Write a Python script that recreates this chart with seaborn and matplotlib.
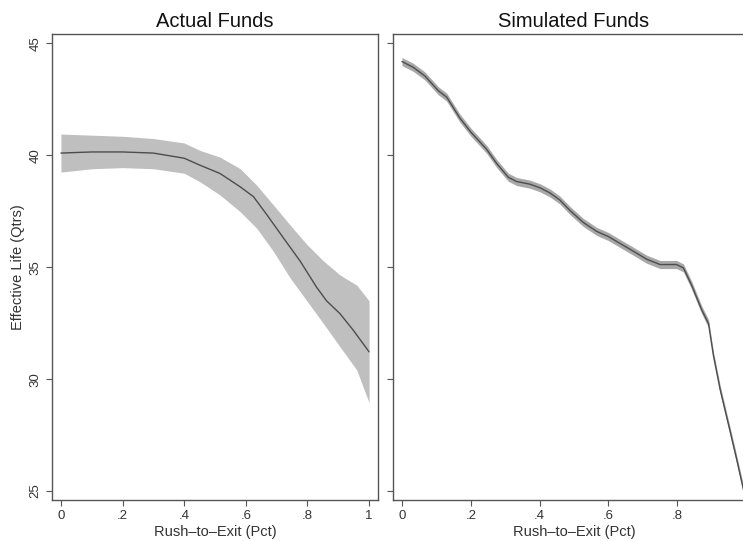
import matplotlib
matplotlib.use("Agg")
import matplotlib.pyplot as plt
import seaborn as sns
import pandas as pd

sns.set_theme(style="white")
plt.rcParams['font.family'] = ['Liberation Sans', 'DejaVu Sans']

# Actual funds: fitted line
act_x = [0.0, 0.1, 0.2, 0.3, 0.4, 0.451, 0.516, 0.581, 0.625, 0.668, 0.722, 0.776,
         0.83, 0.862, 0.906, 0.949, 1.0]
act_mid = [40.1, 40.15, 40.15, 40.1, 39.87, 39.56, 39.19, 38.6, 38.15, 37.35, 36.31, 35.28,
           34.1, 33.5, 32.92, 32.18, 31.22]
# Actual funds: confidence band
band_x = [0.0, 0.1, 0.2, 0.3, 0.4, 0.451, 0.516, 0.581, 0.635, 0.689, 0.743, 0.798,
          0.852, 0.906, 0.96, 1.0]
act_hi = [40.95, 40.9, 40.85, 40.75, 40.55, 40.22, 39.92, 39.41, 38.67, 37.79, 36.9, 36.02,
          35.28, 34.65, 34.2, 33.5]
act_lo = [39.25, 39.4, 39.45, 39.4, 39.2, 38.82, 38.23, 37.49, 36.75, 35.72, 34.54, 33.5,
          32.48, 31.44, 30.41, 28.95]

# Simulated funds
sim_x = [0.0, 0.033, 0.067, 0.106, 0.13, 0.168, 0.2, 0.246, 0.275, 0.309, 0.333, 0.372,
         0.401, 0.43, 0.459, 0.488, 0.527, 0.566, 0.6, 0.634, 0.673, 0.711, 0.75, 0.798,
         0.818, 0.842, 0.871, 0.891, 0.905, 0.925, 0.954, 0.973, 0.992, 1.0]
sim_mid = [44.19, 43.93, 43.54, 42.88, 42.6, 41.67, 41.04, 40.27, 39.64, 39.02, 38.83, 38.71,
           38.55, 38.32, 38.0, 37.54, 37.0, 36.6, 36.37, 36.06, 35.71, 35.36, 35.12, 35.12,
           34.97, 34.19, 33.1, 32.48, 31.07, 29.52, 27.65, 26.4, 25.1, 24.7]
sim_hw = 0.18

titles = ["Actual Funds", "Simulated Funds"]
xticks = [0, 0.2, 0.4, 0.6, 0.8, 1.0]
xticklabels = ["0", ".2", ".4", ".6", ".8", "1"]
yticks = [25, 30, 35, 40, 45]

band_col = "#bfbfbf"
line_col = "#4d4d4d"
spine_col = "#555555"
text_col = "#333333"

fig = plt.figure(figsize=(7.43, 5.41), dpi=100)
W, H = 743, 541
top_px, bot_px = 34, 500
ax1 = fig.add_axes([52 / W, 1 - bot_px / H, 326 / W, (bot_px - top_px) / H])
ax2 = fig.add_axes([393 / W, 1 - bot_px / H, 362 / W, (bot_px - top_px) / H])

df_act = pd.DataFrame({"x": act_x, "y": act_mid})
df_sim = pd.DataFrame({"x": sim_x, "y": sim_mid})

ax1.fill_between(band_x, act_lo, act_hi, color=band_col, lw=0)
sns.lineplot(data=df_act, x="x", y="y", ax=ax1, color=line_col, lw=1.0)

sim_lo = [v - sim_hw for v in sim_mid]
sim_hi = [v + sim_hw for v in sim_mid]
ax2.fill_between(sim_x, sim_lo, sim_hi, color="#a8a8a8", lw=0)
sns.lineplot(data=df_sim, x="x", y="y", ax=ax2, color=line_col, lw=1.0)

for i, ax in enumerate([ax1, ax2]):
    pad = 0.029 if i == 0 else 0.026
    ax.set_xlim(-pad, 1 + pad)
    ax.set_ylim(24.6, 45.42)
    ax.set_xticks(xticks)
    ax.set_xticklabels(xticklabels)
    ax.set_yticks(yticks)
    ax.set_title(titles[i], fontsize=14.5, color="#111111", pad=5)
    ax.set_xlabel("Rush\u2013to\u2013Exit (Pct)", fontsize=10.5, color=text_col, labelpad=2)
    for s in ax.spines.values():
        s.set_color(spine_col)
        s.set_linewidth(1.0)
    ax.tick_params(axis="both", direction="out", length=4.5, width=0.8, color=spine_col,
                   labelsize=9.5, labelcolor=text_col, pad=3, bottom=True, left=True)
    ax.grid(False)

ax1.set_ylabel("Effective Life (Qtrs)", fontsize=10.5, color=text_col, labelpad=3)
for lab in ax1.get_yticklabels():
    lab.set_rotation(90)
    lab.set_va("center")
ax2.set_ylabel("")
ax2.set_yticklabels([])

fig.savefig("out.png", dpi=100, facecolor="white")
